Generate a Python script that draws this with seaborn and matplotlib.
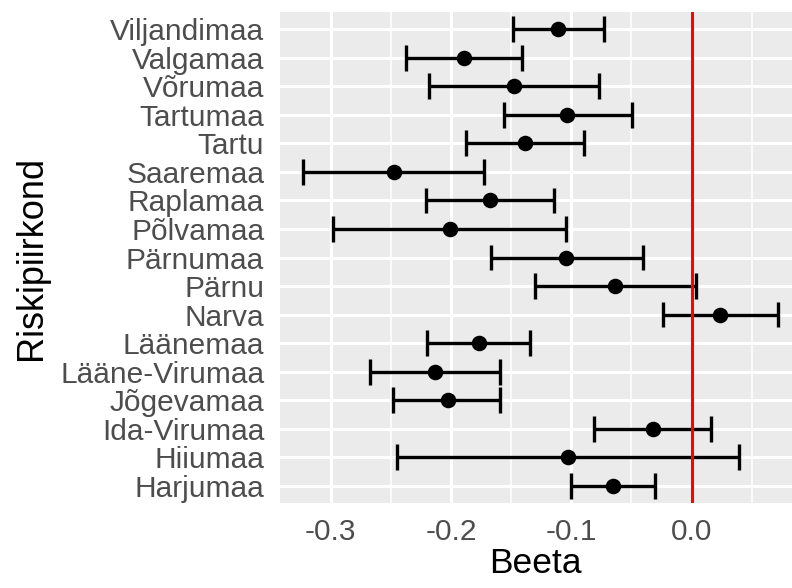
import numpy as np
import pandas as pd
import matplotlib
matplotlib.use("Agg")
import matplotlib.pyplot as plt
from matplotlib.ticker import FixedLocator
import seaborn as sns

# ---- data (top to bottom as displayed) ----
regions = ["Viljandimaa", "Valgamaa", "Võrumaa", "Tartumaa", "Tartu", "Saaremaa",
           "Raplamaa", "Põlvamaa", "Pärnumaa", "Pärnu", "Narva", "Läänemaa",
           "Lääne-Virumaa", "Jõgevamaa", "Ida-Virumaa", "Hiiumaa", "Harjumaa"]
beta = [-0.111, -0.1895, -0.1472, -0.1035, -0.1382, -0.2473,
        -0.1675, -0.2008, -0.1041, -0.0635, 0.024, -0.1768,
        -0.2129, -0.2028, -0.0324, -0.1026, -0.0649]
lower = [-0.148, -0.2374, -0.2183, -0.1563, -0.1873, -0.3226,
         -0.2206, -0.2981, -0.1669, -0.1303, -0.0237, -0.2197,
         -0.2671, -0.2482, -0.081, -0.2445, -0.0998]
upper = [-0.0725, -0.1413, -0.0773, -0.0499, -0.0894, -0.1726,
         -0.114, -0.1041, -0.0406, 0.0037, 0.0722, -0.1345,
         -0.159, -0.159, 0.0163, 0.0395, -0.0302]
xticks = [-0.3, -0.2, -0.1, 0.0]
xtick_labels = ["-0.3", "-0.2", "-0.1", "0.0"]
minor_ticks = [-0.25, -0.15, -0.05, 0.05]

rows = []
for r, lo, b, hi in zip(regions, lower, beta, upper):
    for v in (lo, b, hi):
        rows.append({"Riskipiirkond": r, "Beeta": v})
df = pd.DataFrame(rows)

sns.set_theme(style="darkgrid", rc={
    "axes.facecolor": "#EBEBEB",
    "grid.color": "white",
    "axes.unicode_minus": False,
})
plt.rcParams["font.family"] = ["Liberation Sans", "DejaVu Sans"]

fig = plt.figure(figsize=(7.92, 5.88), dpi=100)
fig.patch.set_facecolor("white")
ax = fig.add_axes([279.5 / 792, (588 - 503) / 588, (792 - 279.5) / 792, (503 - 12) / 588])

sns.pointplot(data=df, x="Beeta", y="Riskipiirkond", order=regions,
              estimator="median", errorbar=("pi", 100), capsize=0.9,
              color="black", linestyle="none", markers="o",
              markersize=11.2, markeredgewidth=0,
              err_kws={"linewidth": 2.4, "solid_capstyle": "butt"}, ax=ax)

ax.axvline(0, color="#FF0000", lw=2.2, zorder=10)

ax.set_xlim(-0.3425, 0.0835)
ax.set_ylim(len(regions) - 1 + 0.6, -0.6)
ax.set_xticks(xticks)
ax.set_xticklabels(xtick_labels)
ax.xaxis.set_minor_locator(FixedLocator(minor_ticks))
ax.set_axisbelow(True)
ax.grid(True, which="major", axis="both", color="white", lw=2.2)
ax.grid(True, which="minor", axis="x", color="white", lw=1.1)
for s in ax.spines.values():
    s.set_visible(False)

ax.tick_params(axis="both", which="major", length=6.5, width=1.5, color="#333333",
               labelsize=21.5, labelcolor="#4D4D4D", pad=4.5)
ax.tick_params(axis="both", which="minor", length=0)

ax.set_xlabel("Beeta", fontsize=25.5, color="black")
ax.set_ylabel("Riskipiirkond", fontsize=26, color="black")
ax.xaxis.set_label_coords(0.5, -0.09)
ax.yaxis.set_label_coords(-0.45, 0.5)

fig.savefig("out.png", dpi=100, facecolor="white")
